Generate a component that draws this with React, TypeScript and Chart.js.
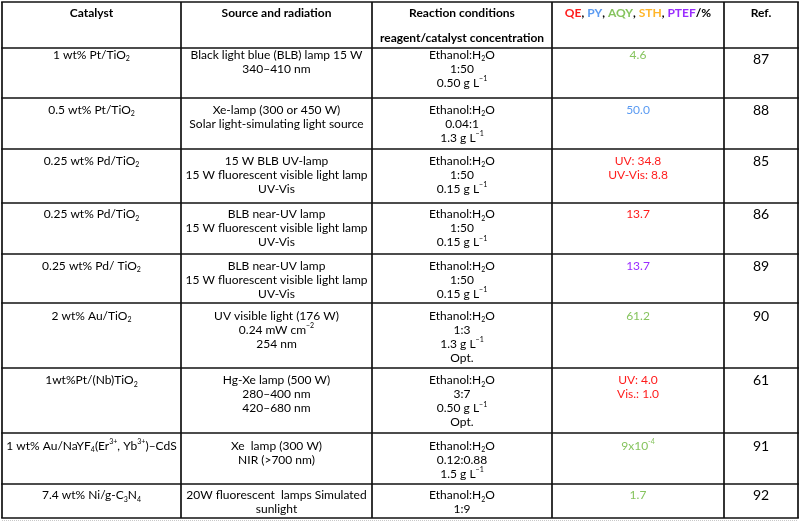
import React, { useEffect, useRef } from "react";
import { Chart, registerables } from "chart.js";

Chart.register(...registerables);

// ---------- DATA ----------
const headerLabels = ["Catalyst", "Source and radiation", "Reaction conditions", "", "Ref."];
const headerSubLabel = "reagent/catalyst concentration";
const metricNames = ["QE", "PY", "AQY", "STH", "PTEF"];
const metricUnit = "/%";

const catalysts = [
  "1 wt% Pt/TiO_{2}",
  "0.5 wt% Pt/TiO_{2}",
  "0.25 wt% Pd/TiO_{2}",
  "0.25 wt% Pd/TiO_{2}",
  "0.25 wt% Pd/ TiO_{2}",
  "2 wt% Au/TiO_{2}",
  "1wt%Pt/(Nb)TiO_{2}",
  "1 wt% Au/NaYF_{4}(Er^{3+}, Yb^{3+})–CdS",
  "7.4 wt% Ni/g-C_{3}N_{4}",
];

const sources = [
  ["Black light blue (BLB) lamp 15 W", "340–410 nm"],
  ["Xe-lamp (300 or 450 W)", "Solar light-simulating light source"],
  ["15 W BLB UV-lamp", "15 W fluorescent visible light lamp", "UV-Vis"],
  ["BLB near-UV lamp", "15 W fluorescent visible light lamp", "UV-Vis"],
  ["BLB near-UV lamp", "15 W fluorescent visible light lamp", "UV-Vis"],
  ["UV visible light (176 W)", "0.24 mW cm^{−2}", "254 nm"],
  ["Hg-Xe lamp (500 W)", "280–400 nm", "420–680 nm"],
  ["Xe  lamp (300 W)", "NIR (>700 nm)"],
  ["20W fluorescent  lamps Simulated", "sunlight"],
];

const conditions = [
  ["Ethanol:H_{2}O", "1:50", "0.50 g L^{−1}"],
  ["Ethanol:H_{2}O", "0.04:1", "1.3 g L^{−1}"],
  ["Ethanol:H_{2}O", "1:50", "0.15 g L^{−1}"],
  ["Ethanol:H_{2}O", "1:50", "0.15 g L^{−1}"],
  ["Ethanol:H_{2}O", "1:50", "0.15 g L^{−1}"],
  ["Ethanol:H_{2}O", "1:3", "1.3 g L^{−1}", "Opt."],
  ["Ethanol:H_{2}O", "3:7", "0.50 g L^{−1}", "Opt."],
  ["Ethanol:H_{2}O", "0.12:0.88", "1.5 g L^{−1}"],
  ["Ethanol:H_{2}O", "1:9"],
];

const efficiencies = [
  ["4.6"],
  ["50.0"],
  ["UV: 34.8", "UV-Vis: 8.8"],
  ["13.7"],
  ["13.7"],
  ["61.2"],
  ["UV: 4.0", "Vis.: 1.0"],
  ["9x10^{-4}"],
  ["1.7"],
];

const efficiencyMetric = ["AQY", "PY", "QE", "QE", "PTEF", "AQY", "QE", "AQY", "AQY"];

const refs = ["87", "88", "85", "86", "89", "90", "61", "91", "92"];

// ---------- LAYOUT / STYLE ----------
const W = 800;
const H = 522;
const colEdges = [2, 181, 372, 552, 724, 798];
const rowEdges = [2, 48, 98, 149, 203, 254, 303, 368, 433, 484, 518];
const rowPad = [6.5, 11.5, 11.5, 11, 11.5, 12.5, 12, 12.5, 11];
const refPadMin = 11;
const LINE_H = 14;
const FONT = "Lato, 'Open Sans', sans-serif";
const BODY_SIZE = 12;
const REF_SIZE = 14;
const TEXT_COLOR = "#000000";
const LINE_COLOR = "#111111";
const metricColors: Record<string, string> = {
  QE: "#ff1c1c",
  PY: "#5b9bf2",
  AQY: "#86c45e",
  STH: "#ffb529",
  PTEF: "#9a2cff",
};

type Seg = { t: string; k: "n" | "sub" | "sup"; color: string };

function parseRich(s: string, color: string): Seg[] {
  const out: Seg[] = [];
  const re = /([_^])\{([^}]*)\}/g;
  let last = 0;
  let m: RegExpExecArray | null;
  while ((m = re.exec(s))) {
    if (m.index > last) out.push({ t: s.slice(last, m.index), k: "n", color });
    out.push({ t: m[2], k: m[1] === "_" ? "sub" : "sup", color });
    last = re.lastIndex;
  }
  if (last < s.length) out.push({ t: s.slice(last), k: "n", color });
  return out;
}

function drawSegs(ctx: CanvasRenderingContext2D, segs: Seg[], cx: number, cy: number, size: number, weight: string) {
  const fontFor = (k: string) =>
    `${weight} ${k === "n" ? size : Math.round(size * 0.62)}px ${FONT}`;
  let total = 0;
  const widths = segs.map((sg) => {
    ctx.font = fontFor(sg.k);
    const w = ctx.measureText(sg.t).width;
    total += w;
    return w;
  });
  let x = cx - total / 2;
  ctx.textAlign = "left";
  ctx.textBaseline = "alphabetic";
  const base = cy + size * 0.36;
  segs.forEach((sg, i) => {
    ctx.font = fontFor(sg.k);
    ctx.fillStyle = sg.color;
    const dy = sg.k === "sub" ? size * 0.2 : sg.k === "sup" ? -size * 0.45 : 0;
    ctx.fillText(sg.t, x, base + dy);
    x += widths[i];
  });
}

const tablePlugin = {
  id: "tableCells",
  beforeDraw(chart: any) {
    const ctx = chart.ctx as CanvasRenderingContext2D;
    ctx.save();
    ctx.fillStyle = "#ffffff";
    ctx.fillRect(0, 0, chart.width, chart.height);
    ctx.restore();
  },
  afterDraw(chart: any) {
    const ctx = chart.ctx as CanvasRenderingContext2D;
    const xs = chart.scales.x;
    const ys = chart.scales.y;
    const px = (v: number) => xs.getPixelForValue(v);
    const py = (v: number) => ys.getPixelForValue(v);
    const colCenter = (c: number) => px((colEdges[c] + colEdges[c + 1]) / 2);
    ctx.save();

    // soft shadow of the outer frame
    ctx.strokeStyle = "#c8c8c8";
    ctx.lineWidth = 1;
    ctx.setLineDash([1, 1]);
    ctx.beginPath();
    ctx.moveTo(px(colEdges[0]), py(rowEdges[rowEdges.length - 1]) + 2.5);
    ctx.lineTo(px(colEdges[colEdges.length - 1]), py(rowEdges[rowEdges.length - 1]) + 2.5);
    ctx.stroke();
    ctx.setLineDash([]);

    // grid
    ctx.strokeStyle = LINE_COLOR;
    ctx.lineWidth = 1.7;
    const left = px(colEdges[0]);
    const right = px(colEdges[colEdges.length - 1]);
    const top = py(rowEdges[0]);
    const bottom = py(rowEdges[rowEdges.length - 1]);
    rowEdges.forEach((r) => {
      ctx.beginPath();
      ctx.moveTo(left - 0.85, py(r));
      ctx.lineTo(right + 0.85, py(r));
      ctx.stroke();
    });
    colEdges.forEach((c) => {
      ctx.beginPath();
      ctx.moveTo(px(c), top);
      ctx.lineTo(px(c), bottom);
      ctx.stroke();
    });

    // header
    const hy = py(rowEdges[0] + 11);
    headerLabels.forEach((h, c) => {
      if (c === 3) {
        const segs: Seg[] = [];
        metricNames.forEach((m, i) => {
          segs.push({ t: m, k: "n", color: metricColors[m] });
          if (i < metricNames.length - 1) segs.push({ t: ", ", k: "n", color: TEXT_COLOR });
        });
        segs.push({ t: metricUnit, k: "n", color: TEXT_COLOR });
        drawSegs(ctx, segs, colCenter(c), hy, BODY_SIZE, "bold");
      } else {
        drawSegs(ctx, parseRich(h, TEXT_COLOR), colCenter(c), hy, BODY_SIZE, "bold");
      }
    });
    drawSegs(ctx, parseRich(headerSubLabel, TEXT_COLOR), colCenter(2), py(rowEdges[0] + 36), BODY_SIZE, "bold");

    // body rows
    catalysts.forEach((cat, r) => {
      const rTop = rowEdges[r + 1];
      const lineY = (i: number, pad: number) => py(rTop + pad + i * LINE_H);
      const pad = rowPad[r];
      drawSegs(ctx, parseRich(cat, TEXT_COLOR), colCenter(0), lineY(0, pad), BODY_SIZE, "normal");
      sources[r].forEach((s, i) =>
        drawSegs(ctx, parseRich(s, TEXT_COLOR), colCenter(1), lineY(i, pad), BODY_SIZE, "normal")
      );
      conditions[r].forEach((s, i) =>
        drawSegs(ctx, parseRich(s, TEXT_COLOR), colCenter(2), lineY(i, pad), BODY_SIZE, "normal")
      );
      const col = metricColors[efficiencyMetric[r]];
      efficiencies[r].forEach((s, i) =>
        drawSegs(ctx, parseRich(s, col), colCenter(3), lineY(i, pad), BODY_SIZE, "normal")
      );
      drawSegs(ctx, parseRich(refs[r], TEXT_COLOR), colCenter(4), lineY(0, Math.max(pad, refPadMin)), REF_SIZE, "normal");
    });

    ctx.restore();
  },
};

export default function App() {
  const canvasRef = useRef<HTMLCanvasElement | null>(null);

  useEffect(() => {
    document.body.style.margin = "0";
    document.body.style.background = "#ffffff";
    const canvas = canvasRef.current;
    if (!canvas) return;
    const chart = new Chart(canvas, {
      type: "scatter",
      data: { datasets: [] },
      options: {
        responsive: false,
        maintainAspectRatio: false,
        animation: false,
        devicePixelRatio: 1,
        layout: { padding: 0 },
        plugins: { legend: { display: false }, tooltip: { enabled: false } },
        scales: {
          x: { type: "linear", min: 0, max: W, display: false },
          y: { type: "linear", min: 0, max: H, reverse: true, display: false },
        },
      },
      plugins: [tablePlugin],
    });
    return () => chart.destroy();
  }, []);

  return (
    <div style={{ width: W, height: H }}>
      <canvas ref={canvasRef} width={W} height={H} style={{ display: "block" }} />
    </div>
  );
}
